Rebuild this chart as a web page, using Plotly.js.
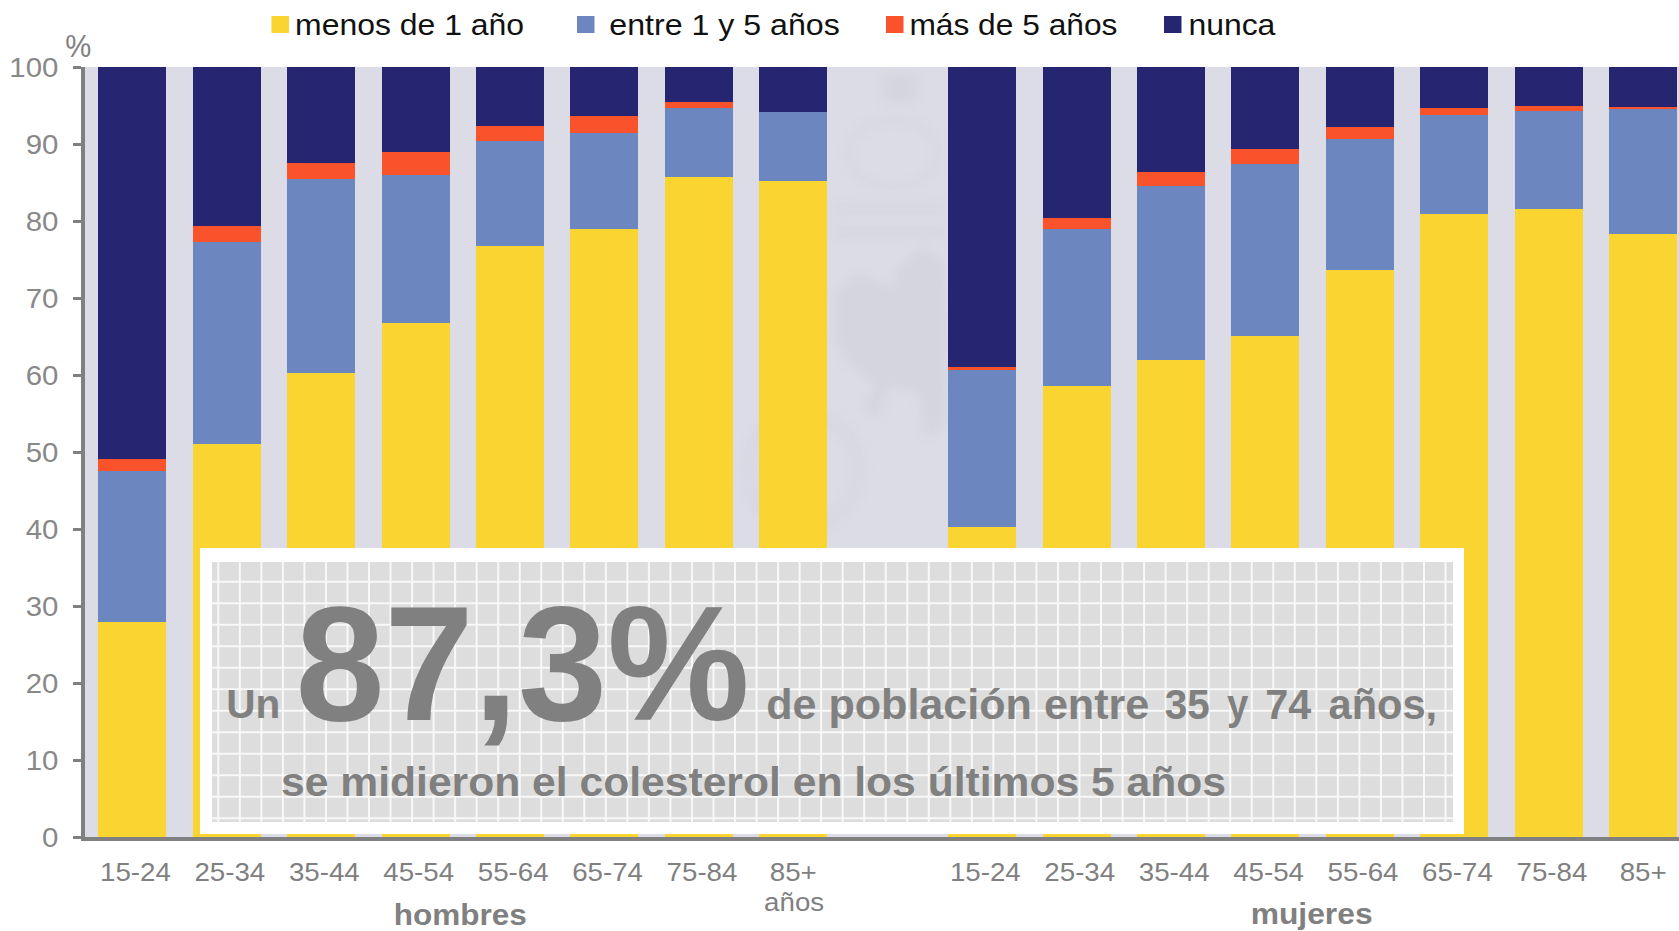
<!DOCTYPE html>
<html><head><meta charset="utf-8">
<script src="https://cdn.plot.ly/plotly-3.0.1.min.js"></script>
<style>html,body{margin:0;padding:0;background:#fff;overflow:hidden}</style>
</head><body><div id="chart" style="width:1679px;height:931px"></div>
<script>
const ageLabels = ['15-24','25-34','35-44','45-54','55-64','65-74','75-84','85+',
                   '15-24','25-34','35-44','45-54','55-64','65-74','75-84','85+'];
const slots = [0,1,2,3,4,5,6,7,9,10,11,12,13,14,15,16];
const menosDe1 = [27.9,51.0,60.3,66.7,76.7,78.9,85.7,85.2, 40.2,58.6,62.0,65.1,73.7,80.9,81.6,78.3];
const entre1y5 = [19.6,26.3,25.1,19.3,13.7,12.5,9.0,9.0, 20.4,20.4,22.6,22.3,16.9,12.9,12.7,16.2];
const masDe5   = [1.6,2.1,2.1,3.0,2.0,2.3,0.8,0.0, 0.5,1.4,1.8,2.0,1.6,0.9,0.6,0.3];
const nunca    = [50.9,20.6,12.5,11.0,7.6,6.3,4.5,5.8, 38.9,19.6,13.6,10.6,7.8,5.3,5.1,5.2];
const seriesNames = ['menos de 1 año','entre 1 y 5 años','más de 5 años','nunca'];
const seriesColors = ['#FAD431','#6C87BF','#FA522B','#262572'];
const seriesValues = [menosDe1,entre1y5,masDe5,nunca];

const W=1679,H=931,L=85,R=0,T=67,B=94;
const px=x=>(x-L)/(W-L-R), py=y=>1-(y-T)/(H-T-B);
const GREY='#808080', FONT='Liberation Sans, Arial, sans-serif';

const traces = seriesNames.map((n,i)=>({type:'bar',name:n,x:slots,y:seriesValues[i],
  marker:{color:seriesColors[i],line:{width:0}},showlegend:false,hoverinfo:'y+name'}));

const rectPx=(x0,y0,x1,y1,fill,layer)=>({type:'rect',xref:'paper',yref:'paper',x0:px(x0),x1:px(x1),y0:py(y0),y1:py(y1),
  fillcolor:fill,line:{width:0},layer:layer||'above'});
const shapes=[];
// faint crest watermark behind the bars
const WM='#D5D5E0';
const poly=pts=>'M'+pts.map(p=>px(p[0])+','+py(p[1])).join('L')+'Z';
const mark=(path,fill,line)=>({type:'path',xref:'paper',yref:'paper',path,layer:'below',
  fillcolor:fill||'rgba(0,0,0,0)',line:line||{width:0}});
shapes.push(mark(poly([[835,293],[858,273],[892,287],[898,267],[922,247],[945,260],[948,327],[945,427],[925,437],[918,393],[888,387],[878,420],[862,407],[875,387],[845,360],[835,340]]),WM));
shapes.push(mark(poly([[882,73],[918,73],[915,103],[885,103]]),WM));
[204,214,229,236].forEach(y=>shapes.push(mark(`M${px(832)},${py(y)}L${px(948)},${py(y)}`,null,{color:WM,width:3})));
[[743,410,863,530],[752,419,854,521]].forEach(c=>shapes.push({type:'circle',xref:'paper',yref:'paper',x0:px(c[0]),x1:px(c[2]),y0:py(c[3]),y1:py(c[1]),
  fillcolor:'rgba(0,0,0,0)',line:{color:WM,width:3},layer:'below'}));
shapes.push({type:'circle',xref:'paper',yref:'paper',x0:px(848),x1:px(938),y0:py(187),y1:py(120),
  fillcolor:'rgba(0,0,0,0)',line:{color:WM,width:4},layer:'below'});
// callout box
shapes.push(rectPx(200,548,1464,834,'#FFFFFF'));
shapes.push(rectPx(212,562,1453,822,'#DDDDDD'));
let grid='';
for(let x=218.3;x<1453;x+=21.53){grid+=`M${px(x)},${py(562)}L${px(x)},${py(822)}`;}
for(let y=581.7;y<822;y+=21.5){grid+=`M${px(212)},${py(y)}L${px(1453)},${py(y)}`;}
shapes.push({type:'path',xref:'paper',yref:'paper',path:grid,line:{color:'#F8F8F8',width:2},layer:'above'});

// every label is placed by its left/right extent in the picture
const extents=[];
const annotations=[];
function label(text,x0,x1,y,size,color){
  annotations.push({xref:'paper',yref:'paper',x:px((x0+x1)/2),y:py(y),text,showarrow:false,
    xanchor:'center',yanchor:'middle',borderpad:0,font:{family:FONT,size,color:color||GREY}});
  extents.push(x1-x0);
}
label('%',65,91,45.5,32);
label('<b>Un</b>',226,280,704,41);
label('<b>87,3%</b>',295,749,663,164);
label('<b>de población entre</b>',765.6,1148.7,704,42);
label('<b>35</b>',1165,1210,704,42);
label('<b>y</b>',1227.7,1249,704,42);
label('<b>74</b>',1265.6,1311.6,704,42);
label('<b>años,</b>',1329,1437.5,704,42);
label('<b>se midieron el colesterol en los últimos 5 años</b>',281,1226,782,41);
label('años',763.5,823.5,902,25);
label('<b>hombres</b>',393,526,915,29);
label('<b>mujeres</b>',1250,1372,914,29);
// legend row
const swatchX=[271.5,577,886,1164], labelExt=[[294.5,523.6],[609,839.5],[909,1117],[1188.5,1275.5]];
seriesNames.forEach((n,i)=>{
  shapes.push(rectPx(swatchX[i],16,swatchX[i]+17.5,33,seriesColors[i]));
  label(n,labelExt[i][0],labelExt[i][1],24.5,30,'#111111');
});
const tickPositions = slots.map((s,i)=>ageLabels[i]==='85+'?s:s+0.034);

Plotly.newPlot('chart',traces,{
  width:W,height:H,barmode:'stack',bargap:0.28,
  margin:{l:L,r:R,t:T,b:B,pad:0},
  paper_bgcolor:'#FFFFFF',plot_bgcolor:'#DCDCE6',
  font:{family:FONT,color:GREY},
  xaxis:{type:'linear',range:[-0.5,16.38],tickmode:'array',tickvals:tickPositions,ticktext:ageLabels,
    tickfont:{family:FONT,size:26,color:GREY},ticks:'',showgrid:false,zeroline:false,ticklabelstandoff:9,
    showline:true,linecolor:GREY,linewidth:4,automargin:false,tickangle:0},
  yaxis:{range:[0,100],tickmode:'linear',tick0:0,dtick:10,tickfont:{family:FONT,size:28,color:'#888888'},
    ticks:'outside',ticklen:8,tickwidth:3,tickcolor:GREY,showgrid:false,zeroline:false,ticklabelstandoff:9,
    showline:true,linecolor:GREY,linewidth:4,automargin:false},
  shapes,annotations,showlegend:false
},{displayModeBar:false,responsive:false}).then(gd=>{
  const fit=(el,len)=>{el.setAttribute('textLength',len);el.setAttribute('lengthAdjust','spacingAndGlyphs');};
  extents.forEach((len,i)=>{
    const el=gd.querySelector(`.annotation[data-index="${i}"] .annotation-text`);
    if(el) fit(el,len);
  });
  gd.querySelectorAll('.xtick text').forEach(el=>fit(el,el.getComputedTextLength()*1.065));
  gd.querySelectorAll('.ytick text').forEach(el=>fit(el,el.getComputedTextLength()*1.05));
  // the crest is a soft, blurred watermark in the reference
  gd.querySelectorAll('.shapelayer path').forEach(el=>{
    if(el.closest('.layer-below')) el.style.filter='blur(4px)';
  });
});
</script></body></html>
